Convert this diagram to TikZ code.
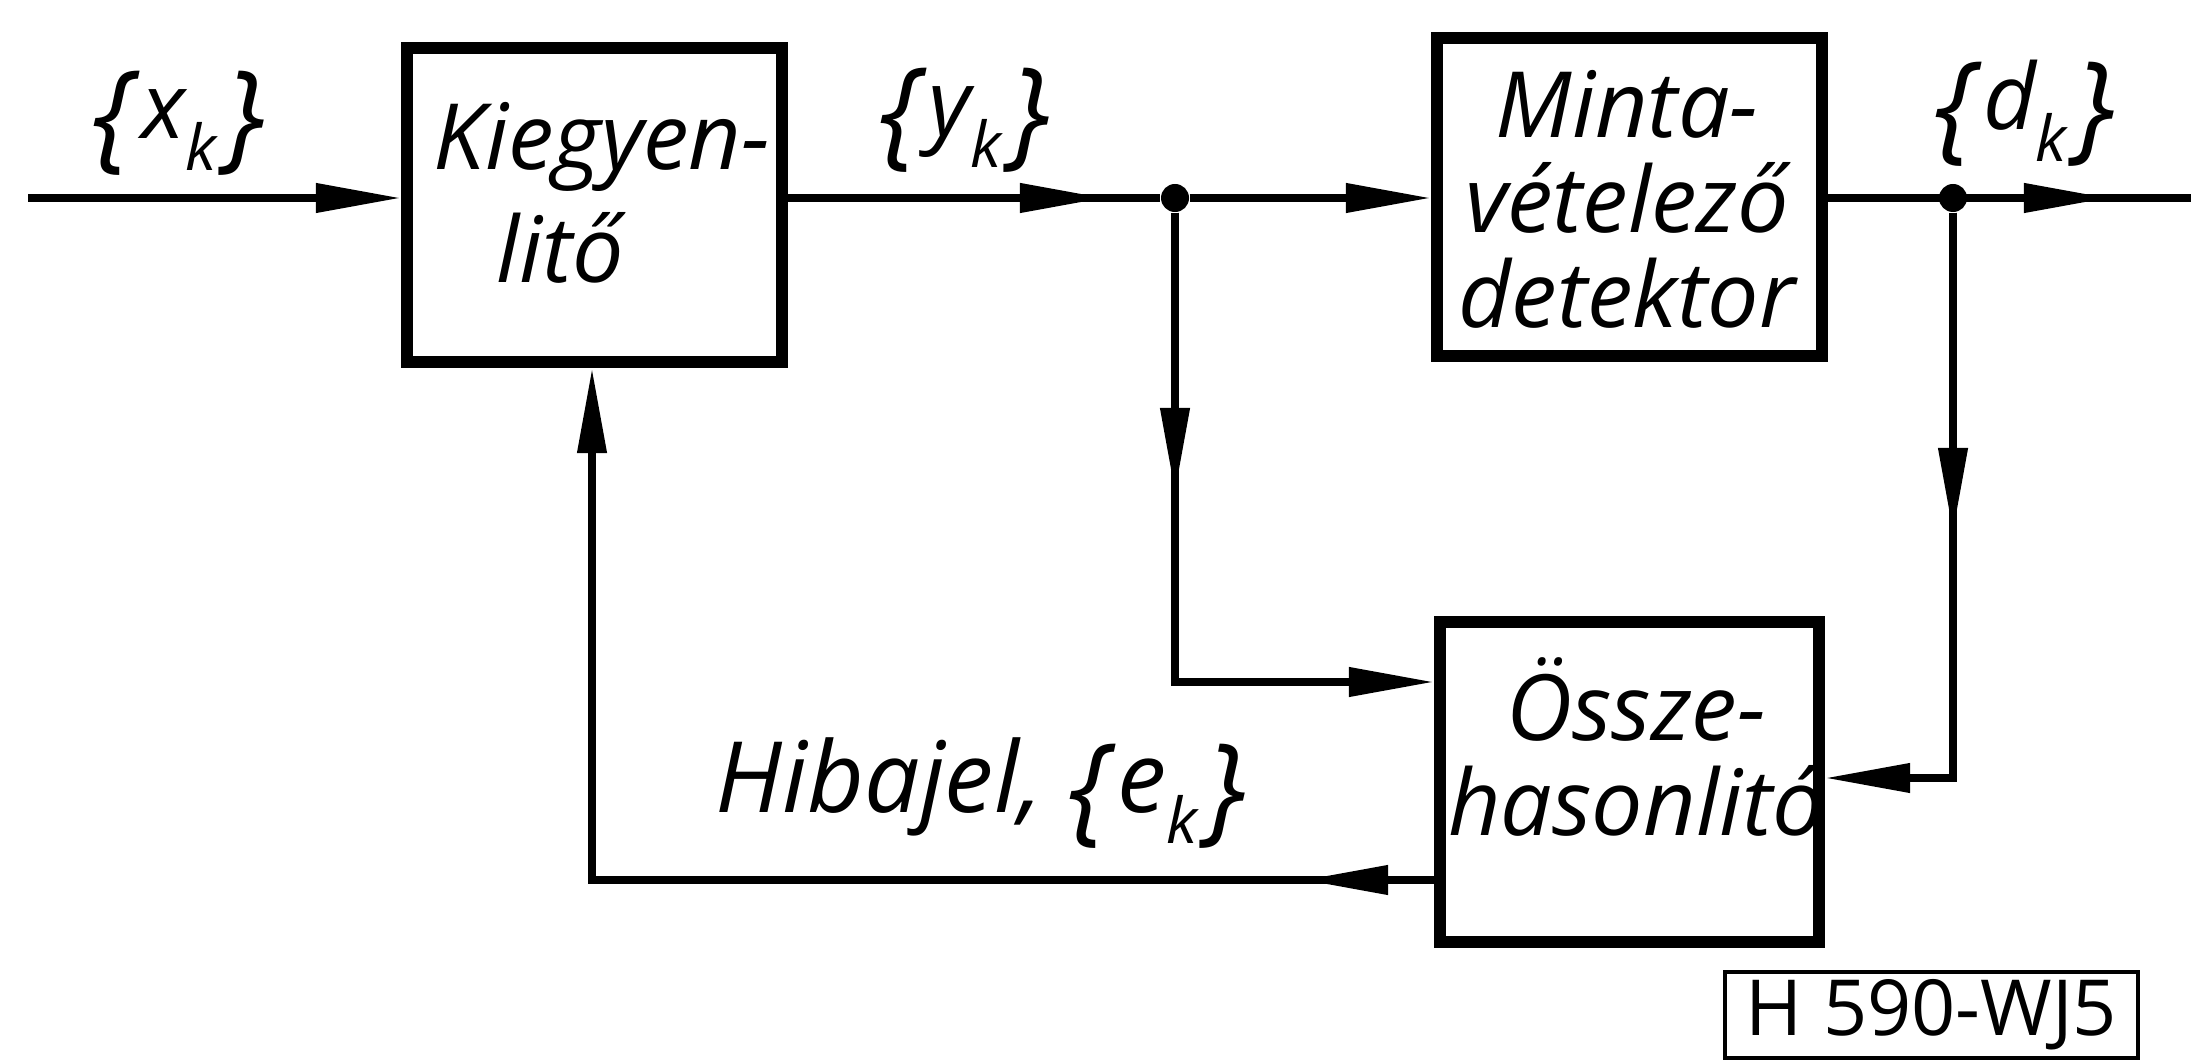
\documentclass[tikz,border=0pt]{standalone}
\usepackage{fontspec}
\newfontfamily\lett{Open Sans}
\newfontfamily\idfont{Open Sans}
\usetikzlibrary{arrows.meta}
\newcommand\mybl{\raisebox{-5pt}{\fontsize{34}{34}\selectfont\{}\hspace{2pt}}
\newcommand\mybr{\hspace{2pt}\raisebox{-5pt}{\fontsize{34}{34}\selectfont\}}}
\newcommand\mysub[1]{\raisebox{-9pt}{\fontsize{18}{18}\selectfont #1}}
\begin{document}
\begin{tikzpicture}[x=0.01cm,y=-0.01cm,
  >={Triangle[length=8.5mm,width=2.8mm]},
  blk/.style={draw,line width=3.4pt,inner sep=0pt},
  conn/.style={line width=2.1pt},
  txt/.style={inner sep=0pt,font=\lett\itshape\fontsize{26}{27}\selectfont},
  dot/.style={circle,fill,minimum size=0.28cm,inner sep=0pt}]
\useasboundingbox (0,0) rectangle (2191,1064);
% blocks
\node[blk,minimum width=3.75cm,minimum height=3.14cm] (b1) at (594.5,205) {};
\node[blk,minimum width=3.85cm,minimum height=3.18cm] (b2) at (1629.5,197) {};
\node[blk,minimum width=3.79cm,minimum height=3.20cm] (b3) at (1629.5,782) {};
\node[txt,align=center] (t1) at (602,193) {Kiegyen-\\[5pt]litő\hspace*{0.84cm}};
\node[txt,align=center] (t2) at (1627,199) {Minta-\\vételező\\detektor};
\node[txt,align=center] (t3) at (1636,747) {Össze-\\hasonlitó};
% junctions
\node[dot] (j1) at (1175,198) {};
\node[dot] (j2) at (1953,198) {};
% labels
\node[txt] (lx) at (179,123) {\mybl x\mysub{k}\mybr};
\node[txt] (ly) at (965,120) {\mybl y\mysub{k}\mybr};
\node[txt] (ld) at (2025,113) {\mybl d\mysub{k}\mybr};
\node[txt,font=\lett\itshape\fontsize{28}{28}\selectfont] (le) at (981,793) {Hibajel, \mybl e\mysub{k}\mybr};
\node[draw,line width=1.2pt,minimum width=4.13cm,minimum height=0.86cm,inner sep=0pt,
  font=\idfont\fontsize{22}{22}\selectfont] (id) at (1931.5,1015) {H 590-WJ5};
% helper coordinates
\coordinate (inp) at (28,198);
\coordinate (m1) at (1105,198);
\coordinate (m2) at (2109,198);
\coordinate (outp) at (2191,198);
\coordinate (m3) at (1175,493);
\coordinate (c3) at (1175,682);
\coordinate (m4) at (1953,533);
\coordinate (c4) at (1953,778);
\coordinate (c5) at (592,880);
\coordinate (m5) at (1303,880);
% connectors
\draw[conn,->] (inp) -- (inp -| b1.west);
\draw[conn] (inp -| b1.east) -- (j1);
\draw[conn,->] (inp -| b1.east) -- (m1);
\draw[conn,->] (j1) -- (j1 -| b2.west);
\draw[conn] (j1 -| b2.east) -- (outp);
\draw[conn,->] (j2) -- (m2);
\draw[conn,->] (j1) -- (c3) -- (c3 -| b3.west);
\draw[conn,->] (j1) -- (m3);
\draw[conn,->] (j2) -- (c4) -- (c4 -| b3.east);
\draw[conn,->] (j2) -- (m4);
\draw[conn,->] (c5 -| b3.west) -- (c5) -- (c5 |- b1.south);
\draw[conn,->] (c5 -| b3.west) -- (m5);
\end{tikzpicture}
\end{document}
